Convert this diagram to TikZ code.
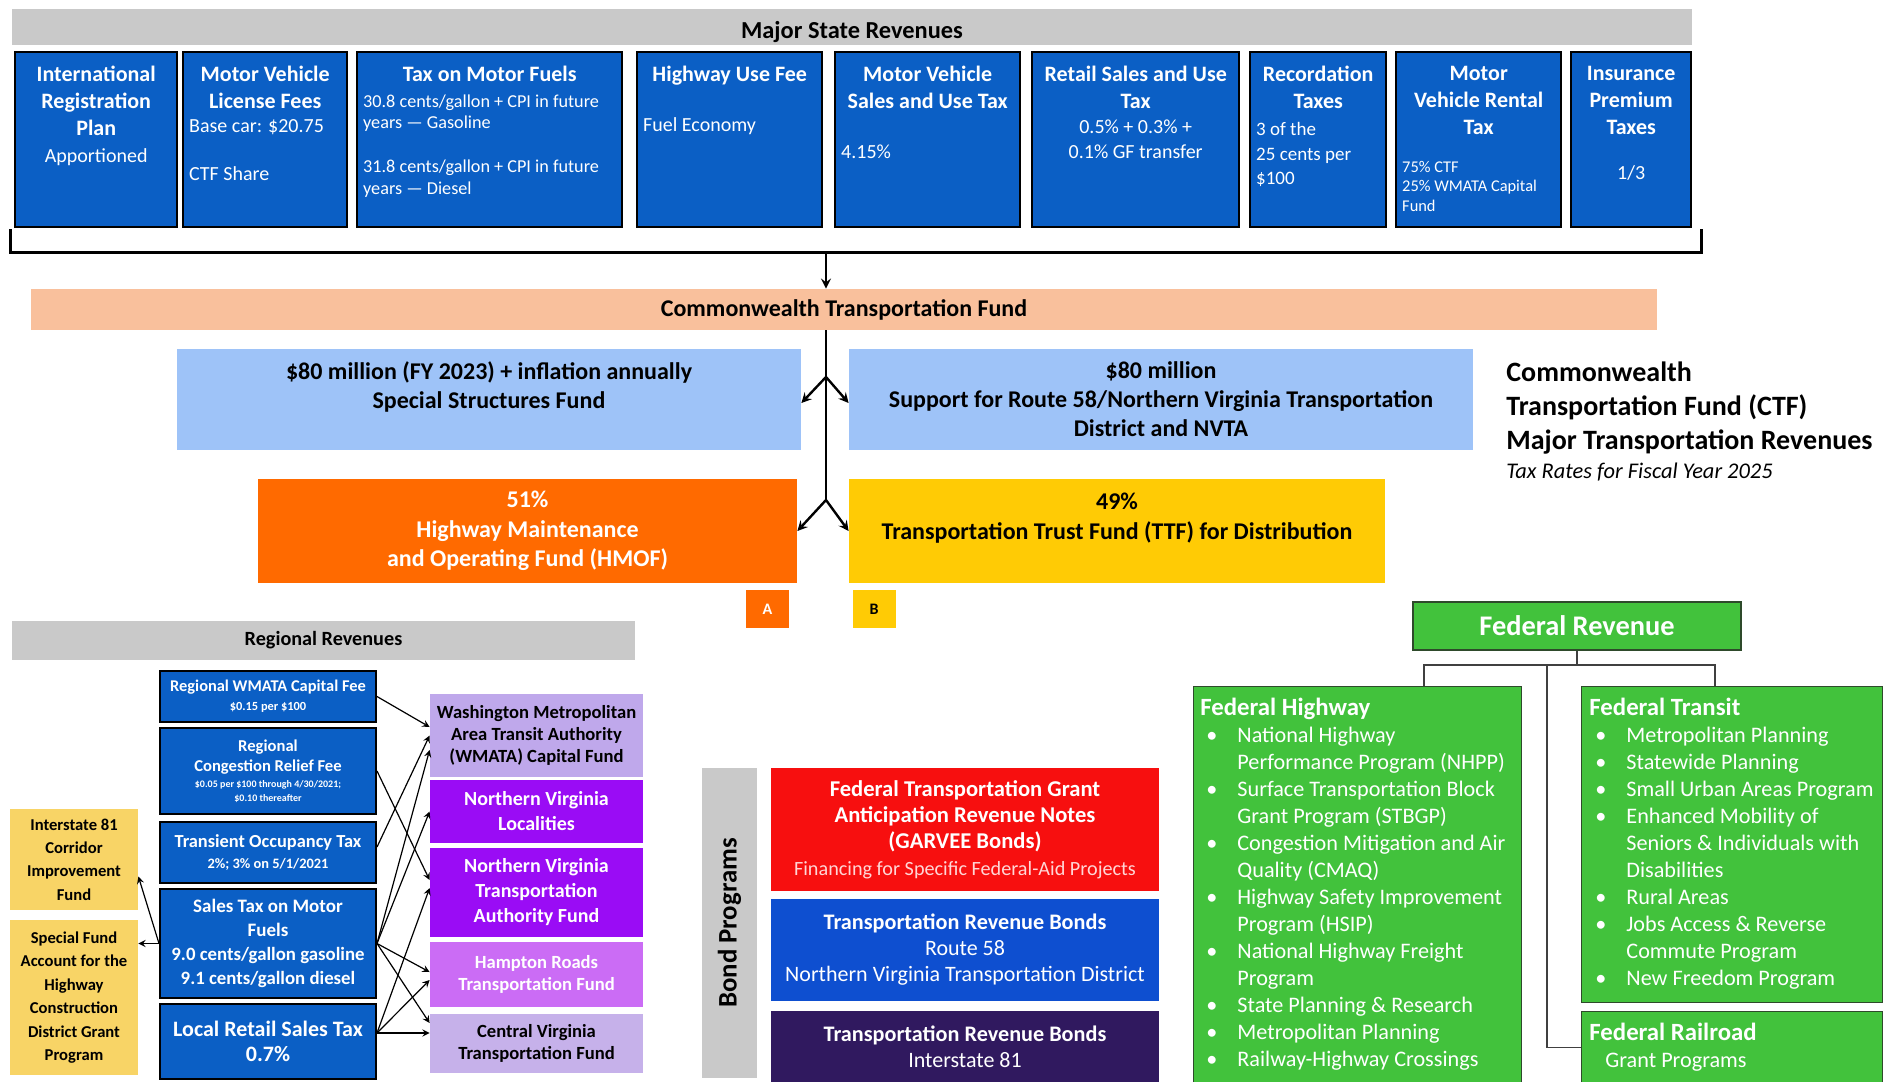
\documentclass[tikz,border=0pt]{standalone}
\usepackage{fontspec}
\setmainfont{Carlito}

\definecolor{stBlue}{HTML}{0B5FC5}
\definecolor{barGray}{HTML}{C9C9C9}
\definecolor{ctfPeach}{HTML}{F9C09C}
\definecolor{ssfBlue}{HTML}{9EC3F8}
\definecolor{hmofOrange}{HTML}{FF6A00}
\definecolor{ttfYellow}{HTML}{FFCB05}
\definecolor{regYellow}{HTML}{F8D466}
\definecolor{wmfLilac}{HTML}{BFA8EB}
\definecolor{nvPurple}{HTML}{9A0CF5}
\definecolor{hrPink}{HTML}{CB6CF5}
\definecolor{cvLilac}{HTML}{C6B1EA}
\definecolor{garveeRed}{HTML}{F70F0F}
\definecolor{garveeSub}{HTML}{FFD6D6}
\definecolor{trbBlue}{HTML}{0E4FD0}
\definecolor{trbPurple}{HTML}{30195F}
\definecolor{fedGreen}{HTML}{42C23C}
\definecolor{fedBorder}{HTML}{2E4A2B}

% top row cells: fixed height, text from the top
\newcommand{\topcell}[2]{\parbox[c][73.5pt][t]{#1}{#2}}
\newcommand{\sttitle}{\fontsize{11}{13.5}\selectfont\bfseries}
% small print in the regional and bond boxes
\newcommand{\rsub}[1]{\fontsize{#1}{#1}\selectfont}
\newcommand{\trbsub}{\fontsize{11}{12.5}\selectfont\mdseries}
% bullet and hanging indent for the federal lists
\newcommand{\fb}{\makebox[18.5pt][l]{\hspace{3pt}\textbullet}}
\newcommand{\fc}{\hspace*{18.5pt}}

\begin{document}
\begin{tikzpicture}[x=0.5pt, y=-0.5pt, >=stealth,
 bar/.style={fill=barGray, inner sep=0pt},
 stbox/.style={draw=black, line width=1.2pt, fill=stBlue, text=white, anchor=north west, inner xsep=3pt, inner ysep=7pt},
 fund/.style={inner sep=0pt, align=center, font=\fontsize{12}{14.5}\selectfont\bfseries},
 regbox/.style={draw=black, line width=1pt, fill=stBlue, text=white, inner sep=0pt, align=center, minimum width=108pt},
 yelbox/.style={fill=regYellow, inner sep=0pt, align=center, minimum width=64pt, font=\fontsize{8.3}{11.7}\selectfont\bfseries},
 purbox/.style={inner sep=0pt, align=center, minimum width=106.5pt, font=\fontsize{9.3}{11}\selectfont\bfseries},
 bondbox/.style={inner sep=0pt, align=center, minimum width=194pt, text=white},
 fedbox/.style={draw=fedBorder, line width=0.6pt, fill=fedGreen, inner sep=0pt, anchor=north west},
 fedtext/.style={text=white, inner sep=0pt, anchor=north west, align=left, font=\fontsize{11.1}{13.5}\selectfont},
 trunk/.style={line width=1.2pt},
 regarrow/.style={->, line width=0.6pt},
 fedline/.style={draw=black!75, line width=0.7pt}]

 \useasboundingbox (0,0) rectangle (1888,1081);

 % major state revenues
 \node[bar, minimum width=840pt, minimum height=18pt, font=\fontsize{12.2}{14}\selectfont\bfseries] (msr) at (852,27) {\raisebox{-2.5pt}[\height][\depth]{Major State Revenues}};

 \node[stbox] (irp) at (14,51) {\topcell{75pt}{\centering\sttitle International\\Registration\\Plan\par\fontsize{10}{13.5}\selectfont\mdseries Apportioned}};
 \node[stbox] (mvlf) at (182,51) {\topcell{76pt}{\centering\sttitle Motor Vehicle\\License Fees\par\raggedright\fontsize{10}{12}\selectfont\mdseries Base car: \$20.75\\[12pt]CTF Share}};
 \node[stbox] (tmf) at (356,51) {\topcell{126.5pt}{\centering\sttitle Tax on Motor Fuels\par\vspace{2pt}\raggedright\fontsize{9.1}{10.8}\selectfont\mdseries 30.8 cents/gallon + CPI in future\\years --- Gasoline\\[11pt]31.8 cents/gallon + CPI in future\\years --- Diesel}};
 \node[stbox] (huf) at (636,51) {\topcell{86.5pt}{\centering\sttitle Highway Use Fee\par\vspace{13pt}\raggedright\fontsize{10}{12}\selectfont\mdseries Fuel Economy}};
 \node[stbox] (mvsut) at (834,51) {\topcell{86.5pt}{\centering\sttitle Motor Vehicle\\Sales and Use Tax\par\vspace{13pt}\raggedright\fontsize{10}{12}\selectfont\mdseries 4.15\%}};
 \node[stbox] (rsut) at (1031,51) {\topcell{97.5pt}{\centering\sttitle Retail Sales and Use\\Tax\par\fontsize{10}{12.5}\selectfont\mdseries 0.5\% + 0.3\% +\\0.1\% GF transfer}};
 \node[stbox] (rec) at (1249,51) {\topcell{62pt}{\centering\sttitle Recordation\\Taxes\par\vspace{1.3pt}\raggedright\fontsize{9.5}{12.2}\selectfont\mdseries 3 of the\\25 cents per\\\$100}};
 \node[stbox] (mvrt) at (1395,51) {\topcell{76.5pt}{\centering\sttitle Motor\\Vehicle Rental\\Tax\par\vspace{9pt}\raggedright\fontsize{8.2}{9.8}\selectfont\mdseries 75\% CTF\\25\% WMATA Capital\\Fund}};
 \node[stbox] (ipt) at (1570,51) {\topcell{54pt}{\centering\sttitle Insurance\\Premium\\Taxes\par\vspace{10pt}\fontsize{10}{12.5}\selectfont\mdseries 1/3}};

 % bracket under the row
 \coordinate (braceL) at (10,229);
 \coordinate (braceR) at (1701,229);
 \coordinate (braceMid) at (826,252);
 \draw[line width=1.5pt] (braceL) -- (braceL |- braceMid) -- (braceR |- braceMid) -- (braceR);

 % commonwealth transportation fund
 \node[bar, fill=ctfPeach, minimum width=813pt, minimum height=20.5pt, font=\fontsize{12}{14}\selectfont\bfseries] (ctf) at (844,309.5) {Commonwealth Transportation Fund};
 \draw[trunk,->] (braceMid) -- (braceMid |- ctf.north);

 \node[fund, fill=ssfBlue, minimum width=312pt, minimum height=50.5pt] (ssf) at (489,399.5) {\$80 million (FY 2023) + inflation annually\\Special Structures Fund\\\mbox{}};
 \node[fund, fill=ssfBlue, minimum width=312pt, minimum height=50.5pt] (r58) at (1161,399.5) {\$80 million\\Support for Route 58/Northern Virginia Transportation\\District and NVTA};
 \node[fund, fill=hmofOrange, text=white, minimum width=269.5pt, minimum height=52pt, font=\fontsize{12}{14.7}\selectfont\bfseries] (hmof) at (527.5,531) {51\%\\Highway Maintenance\\and Operating Fund (HMOF)};
 \node[fund, fill=ttfYellow, minimum width=268pt, minimum height=52pt, font=\fontsize{12}{14.7}\selectfont\bfseries] (ttf) at (1117,531) {49\%\\Transportation Trust Fund (TTF) for Distribution\\\mbox{}};
 \node[fund, fill=hmofOrange, text=white, minimum width=21.5pt, minimum height=19pt, font=\fontsize{8}{9}\selectfont\bfseries] (boxA) at (767.5,609) {A};
 \node[fund, fill=ttfYellow, minimum width=21.5pt, minimum height=19pt, font=\fontsize{8}{9}\selectfont\bfseries] (boxB) at (874,609) {B};

 \coordinate (forkA) at (826,377);
 \coordinate (forkB) at (826,500);
 \draw[trunk] (forkA |- ctf.south) -- (forkB);
 \draw[trunk,->] (forkA) -- ([yshift=-1.75pt]ssf.east);
 \draw[trunk,->] (forkA) -- ([yshift=-1.75pt]r58.west);
 \draw[trunk,->] (forkB) -- (hmof.east);
 \draw[trunk,->] (forkB) -- (ttf.west);

 \node[anchor=north west, inner sep=0pt, align=left, font=\fontsize{14}{17.2}\selectfont\bfseries] (ctfTitle) at (1506,361) {Commonwealth\\Transportation Fund (CTF)\\Major Transportation Revenues\\[-3pt]\fontsize{11.2}{15}\selectfont\mdseries\itshape Tax Rates for Fiscal Year 2025};

 % regional revenues
 \node[bar, minimum width=311.5pt, minimum height=19.5pt, font=\fontsize{10.1}{12}\selectfont\bfseries] (regBar) at (323.5,640.5) {Regional Revenues};

 \node[regbox, minimum height=25.5pt, font=\fontsize{8.2}{9.5}\selectfont\bfseries] (rwf) at (268,696.5) {Regional WMATA Capital Fee\\\rsub{6.2}\$0.15 per \$100};
 \node[regbox, minimum height=43pt, font=\fontsize{8.3}{10}\selectfont\bfseries] (crf) at (268,771) {Regional\\Congestion Relief Fee\\[-2pt]\rsub{5}\$0.05 per \$100 through 4/30/2021;\\[-3pt]\rsub{5}\$0.10 thereafter};
 \node[regbox, minimum height=30.5pt, font=\fontsize{9.2}{10.5}\selectfont\bfseries] (tot) at (268,852.5) {Transient Occupancy Tax\\\rsub{7.2}2\%; 3\% on 5/1/2021};
 \node[regbox, minimum height=54.5pt, font=\fontsize{9.5}{12}\selectfont\bfseries] (smf) at (268,943.5) {Sales Tax on Motor\\Fuels\\\rsub{9.4}9.0 cents/gallon gasoline\\\rsub{9.4}9.1 cents/gallon diesel};
 \node[regbox, minimum height=37.5pt, font=\fontsize{11}{12.5}\selectfont\bfseries] (lrs) at (268,1041.5) {Local Retail Sales Tax\\0.7\%};

 \node[yelbox, minimum height=50.5pt] (i81) at (74,859.5) {Interstate 81\\Corridor\\Improvement\\Fund};
 \node[yelbox, minimum height=77.5pt] (sfa) at (74,997.5) {Special Fund\\Account for the\\Highway\\Construction\\District Grant\\Program};

 \node[purbox, fill=wmfLilac, minimum height=41.5pt] (wmf) at (536.5,735.5) {Washington Metropolitan\\Area Transit Authority\\(WMATA) Capital Fund};
 \node[purbox, fill=nvPurple, text=white, minimum height=31.5pt, font=\fontsize{10}{12.5}\selectfont\bfseries] (nvl) at (536.5,811.5) {Northern Virginia\\Localities};
 \node[purbox, fill=nvPurple, text=white, minimum height=44.5pt, font=\fontsize{10}{12.5}\selectfont\bfseries] (nvta) at (536.5,892.5) {Northern Virginia\\Transportation\\Authority Fund};
 \node[purbox, fill=hrPink, text=white, minimum height=32.5pt] (hrt) at (536.5,974.5) {Hampton Roads\\Transportation Fund};
 \node[purbox, fill=cvLilac, minimum height=29.5pt] (cvt) at (536.5,1043.5) {Central Virginia\\Transportation Fund};

 \draw[regarrow] (rwf.east) -- ([yshift=4.25pt]wmf.west);
 \draw[regarrow] ([yshift=2.75pt]tot.east) -- (wmf.west);
 \draw[regarrow] (smf.east) -- ([yshift=-7.25pt]wmf.west);
 \draw[regarrow] (smf.east) -- (nvl.west);
 \draw[regarrow] (crf.east) -- ([yshift=6.25pt]nvta.west);
 \draw[regarrow] ([yshift=4.25pt]lrs.east) -- ([yshift=2.25pt]nvta.west);
 \draw[regarrow] (smf.east) -- ([yshift=1.25pt]hrt.west);
 \draw[regarrow] ([yshift=4.25pt]lrs.east) -- ([yshift=-2.75pt]hrt.west);
 \draw[regarrow] (smf.east) -- ([yshift=10.25pt]cvt.west);
 \draw[regarrow] ([yshift=4.25pt]lrs.east) -- ([yshift=5.25pt]cvt.west);
 \draw[regarrow] (smf.west) -- ([yshift=-8.5pt]i81.east);
 \draw[regarrow] (smf.west) -- (smf.west -| sfa.east);

 % bond programs
 \node[bar, rotate=90, minimum width=155pt, minimum height=27.5pt, font=\fontsize{13.4}{15}\selectfont\bfseries] (bondBar) at (729.5,923) {Bond Programs};
 \node[bondbox, fill=garveeRed, minimum height=61.5pt, font=\fontsize{11.3}{13.2}\selectfont\bfseries] (garvee) at (965,829.5) {Federal Transportation Grant\\Anticipation Revenue Notes\\(GARVEE Bonds)\\\fontsize{10.1}{13.2}\selectfont\mdseries\textcolor{garveeSub}{Financing for Specific Federal-Aid Projects}};
 \node[bondbox, fill=trbBlue, minimum height=51pt, font=\fontsize{11.1}{13}\selectfont\bfseries] (trb58) at (965,950) {Transportation Revenue Bonds\\\trbsub Route 58\\\trbsub Northern Virginia Transportation District};
 \node[bondbox, fill=trbPurple, minimum height=36pt, font=\fontsize{11.1}{13}\selectfont\bfseries] (trb81) at (965,1047) {Transportation Revenue Bonds\\\trbsub Interstate 81};

 % federal revenue
 \node[fedbox, anchor=center, minimum width=164pt, minimum height=24pt, text=white, font=\fontsize{14.2}{16}\selectfont\bfseries] (fedRev) at (1577,626) {Federal Revenue};
 \node[fedbox, minimum width=164pt, minimum height=198pt] (fhw) at (1193,686) {};
 \node[fedbox, minimum width=150.5pt, minimum height=158pt] (ftr) at (1581,686) {};
 \node[fedbox, minimum width=150.5pt, minimum height=36pt] (frr) at (1581,1011) {};

 \node[fedtext] (fhwText) at (1200,698) {\fontsize{12.4}{13.5}\selectfont\bfseries Federal Highway\\
 \fb National Highway\\\fc Performance Program (NHPP)\\
 \fb Surface Transportation Block\\\fc Grant Program (STBGP)\\
 \fb Congestion Mitigation and Air\\\fc Quality (CMAQ)\\
 \fb Highway Safety Improvement\\\fc Program (HSIP)\\
 \fb National Highway Freight\\\fc Program\\
 \fb State Planning \& Research\\
 \fb Metropolitan Planning\\
 \fb Railway-Highway Crossings};
 \node[fedtext] (ftrText) at (1589,698) {\fontsize{12.4}{13.5}\selectfont\bfseries Federal Transit\\
 \fb Metropolitan Planning\\
 \fb Statewide Planning\\
 \fb Small Urban Areas Program\\
 \fb Enhanced Mobility of\\\fc Seniors \& Individuals with\\\fc Disabilities\\
 \fb Rural Areas\\
 \fb Jobs Access \& Reverse\\\fc Commute Program\\
 \fb New Freedom Program};
 \node[fedtext] (frrText) at (1589,1023) {\fontsize{12.4}{13.5}\selectfont\bfseries Federal Railroad\\\hspace*{8pt}Grant Programs};

 \coordinate (jL) at (1424,665);
 \coordinate (jR) at (1715,665);
 \coordinate (jRail) at (1547,665);
 \draw[fedline] (fedRev.south) -- (fedRev.south |- jL);
 \draw[fedline] (jL |- fhw.north) -- (jL) -- (jR) -- (jR |- ftr.north);
 \draw[fedline] (jRail) -- (jRail |- frr.west) -- (frr.west);
\end{tikzpicture}
\end{document}
